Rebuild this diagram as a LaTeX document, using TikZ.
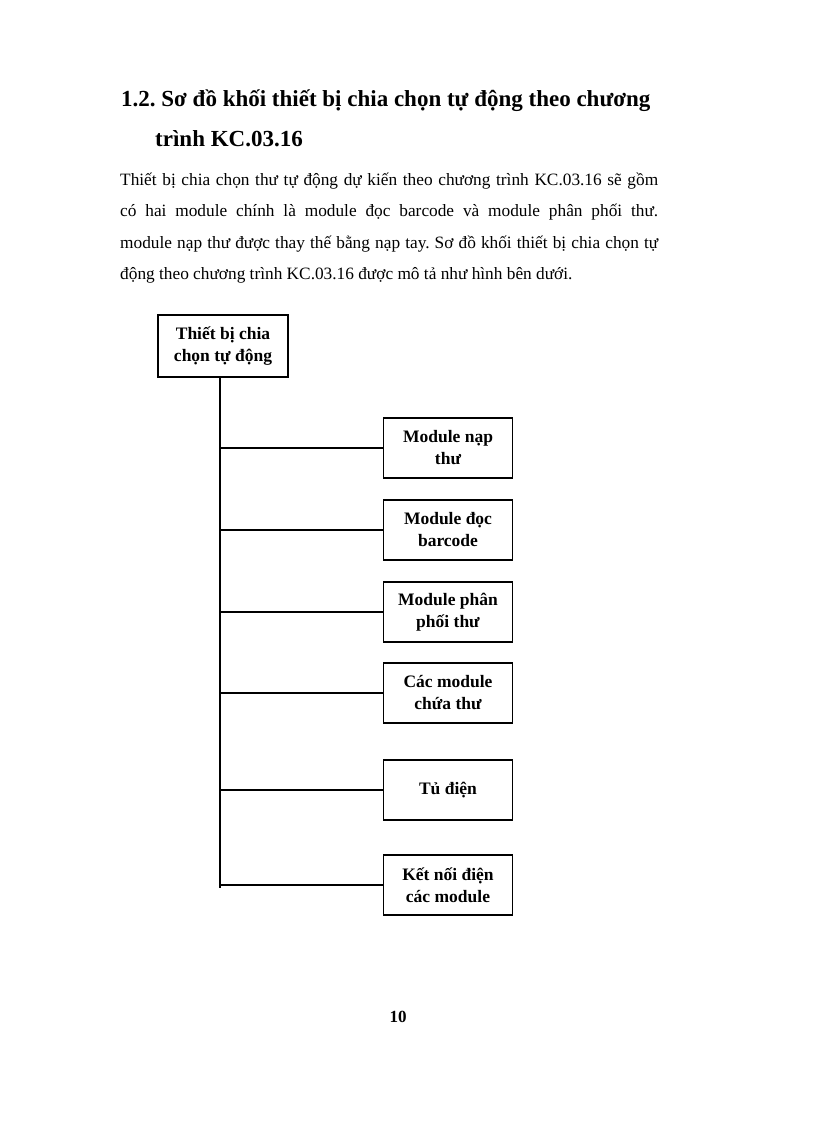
\documentclass[tikz,border=0pt]{standalone}
\usepackage{fontspec}
\setmainfont{Liberation Serif}
\frenchspacing
\usetikzlibrary{positioning}
\tikzset{
  khoi/.style={draw, line width=1.6pt, minimum width=129pt, minimum height=60pt, align=center, inner sep=2pt, font=\fontsize{17.5}{22}\selectfont\bfseries},
  nhanh/.style={line width=1.6pt},
  dong/.style={anchor=base west, inner sep=0pt, font=\fontsize{17.3}{20}\selectfont},
  tieude/.style={anchor=base west, inner sep=0pt, font=\fontsize{23}{28}\selectfont\bfseries}
}
\begin{document}
\begin{tikzpicture}[x=1pt,y=-1pt]
\useasboundingbox (0,0) rectangle (816,1123);
% tieu de
\node[tieude] (tieude1) at (121,107) {1.2. Sơ đồ khối thiết bị chia chọn tự động theo chương};
\node[tieude] (tieude2) at (155,147) {trình KC.03.16};
% doan van
\foreach \y/\n/\t in {186/d1/{Thiết bị chia chọn thư tự động dự kiến theo chương trình KC.03.16 sẽ gồm},
                      217/d2/{có hai module chính là module đọc barcode và module phân phối thư.},
                      248/d3/{module nạp thư được thay thế bằng nạp tay. Sơ đồ khối thiết bị chia chọn tự}} {
    \node[dong] (\n) at (120,\y) {\makebox[538pt][s]{\t}};
}
\node[dong] (d4) at (120,279) {động theo chương trình KC.03.16 được mô tả như hình bên dưới.};
% so do khoi
\node[khoi, minimum width=130pt, minimum height=62pt] (goc) at (223,346) {Thiết bị chia\\chọn tự động};
\coordinate (day) at (220,888);
\draw[nhanh] (goc.south -| day) -- (day);
\foreach \y/\n/\t in {448/nap/{Module nạp\\thư}, 530/doc/{Module đọc\\barcode}, 612/phanphoi/{Module phân\\phối thư},
                      693/chua/{Các module\\chứa thư}, 790/tudien/{Tủ điện}, 885/ketnoi/{Kết nối điện\\các module}} {
    \node[khoi] (\n) at (448,\y) {\t};
    \draw[nhanh] (day |- \n.west) -- (\n.west);
}
\node[anchor=base, inner sep=0pt, font=\fontsize{17}{20}\selectfont\bfseries] (trang) at (398,1022) {10};
\end{tikzpicture}
\end{document}
